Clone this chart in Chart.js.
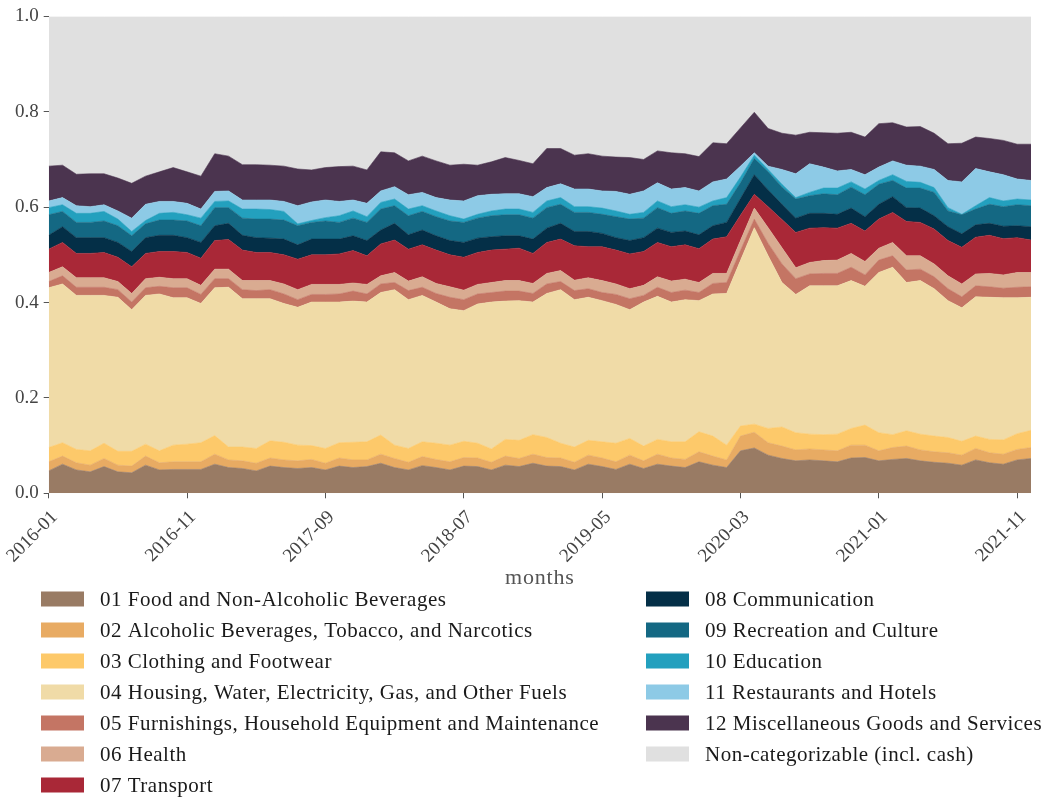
<!DOCTYPE html>
<html>
<head>
<meta charset="utf-8">
<script src="https://cdn.jsdelivr.net/npm/chart.js@4/dist/chart.umd.min.js"></script>
<style>
  body { margin: 0; background: #fff; }
  #wrap { width: 1045px; height: 799px; }
</style>
</head>
<body>
<div id="wrap"><canvas id="shareChart" width="1045" height="799"></canvas></div>
<script>
// Monthly expenditure shares by COICOP category
const months = [
  '2016-01','2016-02','2016-03','2016-04','2016-05','2016-06','2016-07','2016-08','2016-09','2016-10','2016-11','2016-12',
  '2017-01','2017-02','2017-03','2017-04','2017-05','2017-06','2017-07','2017-08','2017-09','2017-10','2017-11','2017-12',
  '2018-01','2018-02','2018-03','2018-04','2018-05','2018-06','2018-07','2018-08','2018-09','2018-10','2018-11','2018-12',
  '2019-01','2019-02','2019-03','2019-04','2019-05','2019-06','2019-07','2019-08','2019-09','2019-10','2019-11','2019-12',
  '2020-01','2020-02','2020-03','2020-04','2020-05','2020-06','2020-07','2020-08','2020-09','2020-10','2020-11','2020-12',
  '2021-01','2021-02','2021-03','2021-04','2021-05','2021-06','2021-07','2021-08','2021-09','2021-10','2021-11','2021-12'
];

const food = [0.047,0.061,0.049,0.045,0.056,0.045,0.043,0.059,0.049,0.050,0.050,0.050,0.061,0.054,0.052,0.047,0.057,0.054,0.052,0.054,0.049,0.057,0.054,0.056,
  0.063,0.054,0.049,0.058,0.054,0.049,0.057,0.056,0.049,0.059,0.056,0.063,0.057,0.056,0.049,0.061,0.056,0.050,0.061,0.052,0.061,0.057,0.054,
  0.066,0.059,0.054,0.089,0.095,0.080,0.073,0.068,0.070,0.068,0.066,0.074,0.075,0.068,0.071,0.073,0.068,0.065,0.063,0.059,0.070,0.064,0.061,0.070,0.073];
const alcohol = [0.019,0.017,0.015,0.014,0.017,0.014,0.014,0.019,0.015,0.016,0.016,0.016,0.021,0.016,0.016,0.016,0.017,0.016,0.016,0.017,0.014,0.017,0.016,0.014,
  0.019,0.019,0.016,0.019,0.017,0.017,0.018,0.018,0.016,0.019,0.017,0.019,0.018,0.018,0.016,0.019,0.018,0.016,0.019,0.016,0.021,0.017,0.017,
  0.021,0.019,0.016,0.031,0.033,0.026,0.026,0.023,0.023,0.023,0.023,0.027,0.026,0.021,0.025,0.026,0.023,0.022,0.022,0.021,0.024,0.021,0.021,0.022,0.023];
const clothing = [0.030,0.028,0.028,0.030,0.032,0.029,0.031,0.025,0.025,0.035,0.037,0.040,0.039,0.027,0.029,0.031,0.036,0.037,0.033,0.029,0.031,0.032,0.037,0.038,
  0.040,0.028,0.029,0.031,0.034,0.035,0.034,0.031,0.028,0.035,0.038,0.041,0.042,0.031,0.032,0.031,0.034,0.039,0.035,0.031,0.031,0.034,0.037,
  0.042,0.042,0.031,0.021,0.017,0.030,0.040,0.036,0.031,0.032,0.035,0.035,0.042,0.038,0.027,0.032,0.033,0.033,0.032,0.029,0.026,0.028,0.030,0.033,0.036];
const housing = [0.335,0.333,0.323,0.326,0.310,0.323,0.297,0.312,0.329,0.309,0.307,0.292,0.310,0.335,0.311,0.314,0.298,0.291,0.289,0.301,0.307,0.295,0.296,0.293,
  0.299,0.326,0.312,0.307,0.296,0.286,0.274,0.292,0.308,0.290,0.293,0.278,0.302,0.322,0.309,0.300,0.296,0.291,0.270,0.302,0.300,0.293,0.298,
  0.275,0.298,0.318,0.347,0.412,0.362,0.303,0.290,0.311,0.312,0.311,0.310,0.291,0.336,0.351,0.311,0.322,0.309,0.287,0.280,0.292,0.298,0.298,0.285,0.279];
const furnishings = [0.013,0.017,0.017,0.017,0.017,0.016,0.016,0.016,0.016,0.021,0.021,0.019,0.019,0.018,0.019,0.017,0.019,0.020,0.016,0.016,0.016,0.017,0.021,0.017,
  0.018,0.015,0.019,0.017,0.018,0.024,0.023,0.021,0.020,0.021,0.020,0.018,0.020,0.017,0.019,0.018,0.017,0.021,0.023,0.014,0.019,0.020,0.020,
  0.017,0.022,0.023,0.021,0.018,0.026,0.039,0.033,0.025,0.026,0.026,0.028,0.024,0.026,0.024,0.026,0.024,0.025,0.025,0.023,0.023,0.022,0.020,0.022,0.022];
const health = [0.019,0.019,0.020,0.020,0.020,0.017,0.018,0.019,0.019,0.019,0.019,0.019,0.020,0.020,0.019,0.021,0.019,0.021,0.021,0.021,0.021,0.020,0.017,0.020,
  0.017,0.021,0.020,0.022,0.021,0.022,0.020,0.020,0.021,0.022,0.022,0.021,0.022,0.023,0.022,0.023,0.025,0.022,0.021,0.021,0.022,0.024,0.023,
  0.021,0.021,0.019,0.021,0.023,0.033,0.034,0.023,0.024,0.027,0.028,0.029,0.028,0.025,0.028,0.030,0.028,0.027,0.027,0.027,0.025,0.028,0.028,0.031,0.030];
const transport = [0.049,0.051,0.051,0.051,0.053,0.051,0.056,0.053,0.054,0.057,0.055,0.057,0.060,0.062,0.064,0.059,0.059,0.061,0.064,0.062,0.062,0.064,0.068,0.060,
  0.067,0.068,0.067,0.067,0.070,0.067,0.069,0.067,0.068,0.066,0.068,0.063,0.065,0.066,0.072,0.065,0.071,0.071,0.073,0.071,0.072,0.072,0.072,
  0.071,0.072,0.077,0.053,0.029,0.044,0.059,0.074,0.072,0.069,0.067,0.063,0.064,0.061,0.063,0.072,0.070,0.073,0.074,0.077,0.077,0.080,0.076,0.073,0.068];
const communication = [0.029,0.033,0.033,0.033,0.031,0.031,0.032,0.033,0.034,0.034,0.031,0.033,0.031,0.034,0.031,0.031,0.030,0.033,0.030,0.033,0.033,0.031,0.031,0.032,
  0.029,0.035,0.030,0.031,0.030,0.030,0.031,0.030,0.028,0.028,0.026,0.030,0.030,0.033,0.030,0.032,0.028,0.026,0.028,0.029,0.030,0.030,0.029,
  0.029,0.028,0.030,0.035,0.041,0.035,0.032,0.030,0.031,0.030,0.029,0.032,0.030,0.031,0.033,0.029,0.030,0.028,0.029,0.028,0.026,0.025,0.026,0.025,0.028];
const recreation = [0.043,0.032,0.032,0.032,0.035,0.035,0.033,0.029,0.032,0.032,0.035,0.035,0.038,0.033,0.036,0.039,0.040,0.040,0.040,0.035,0.038,0.035,0.037,0.038,
  0.044,0.037,0.040,0.039,0.040,0.041,0.042,0.042,0.044,0.044,0.044,0.044,0.043,0.040,0.040,0.040,0.040,0.044,0.045,0.041,0.043,0.040,0.042,
  0.045,0.042,0.038,0.033,0.034,0.038,0.036,0.040,0.037,0.041,0.041,0.044,0.046,0.042,0.034,0.041,0.042,0.049,0.033,0.040,0.033,0.040,0.041,0.044,0.044];
const education = [0.015,0.014,0.019,0.019,0.020,0.014,0.009,0.007,0.014,0.016,0.013,0.016,0.013,0.014,0.019,0.021,0.020,0.018,0.004,0.004,0.007,0.014,0.015,0.012,
  0.014,0.014,0.014,0.012,0.012,0.011,0.007,0.008,0.010,0.012,0.012,0.012,0.014,0.014,0.012,0.012,0.013,0.012,0.010,0.012,0.014,0.014,0.013,
  0.013,0.010,0.014,0.012,0.007,0.005,0.006,0.003,0.007,0.012,0.014,0.011,0.012,0.008,0.012,0.014,0.012,0.010,0.007,0.001,0.007,0.014,0.012,0.012,0.012];
const restaurants = [0.014,0.015,0.016,0.014,0.014,0.017,0.028,0.034,0.025,0.023,0.024,0.019,0.021,0.021,0.019,0.019,0.020,0.021,0.038,0.039,0.037,0.030,0.023,0.028,
  0.024,0.026,0.030,0.028,0.028,0.033,0.038,0.039,0.035,0.032,0.032,0.033,0.028,0.029,0.037,0.037,0.036,0.041,0.042,0.045,0.038,0.037,0.036,
  0.034,0.040,0.039,0.023,0.005,0.007,0.031,0.050,0.060,0.044,0.036,0.026,0.030,0.028,0.029,0.034,0.034,0.038,0.057,0.068,0.078,0.054,0.055,0.042,0.041];
const misc = [0.073,0.068,0.066,0.069,0.065,0.069,0.073,0.059,0.062,0.071,0.066,0.069,0.079,0.073,0.074,0.074,0.073,0.074,0.077,0.067,0.068,0.073,0.071,0.070,
  0.082,0.071,0.071,0.076,0.077,0.073,0.077,0.064,0.068,0.076,0.070,0.069,0.082,0.074,0.071,0.074,0.073,0.072,0.077,0.066,0.067,0.076,0.071,
  0.072,0.082,0.074,0.080,0.085,0.079,0.076,0.081,0.066,0.072,0.079,0.078,0.079,0.091,0.080,0.080,0.083,0.076,0.077,0.081,0.066,0.070,0.072,0.073,0.076];
const nonCat = [0.314,0.312,0.331,0.330,0.330,0.339,0.350,0.335,0.326,0.317,0.326,0.335,0.288,0.293,0.311,0.311,0.312,0.314,0.320,0.322,0.317,0.315,0.314,0.322,
  0.284,0.286,0.303,0.293,0.303,0.312,0.310,0.312,0.305,0.296,0.302,0.309,0.277,0.277,0.291,0.288,0.293,0.295,0.296,0.300,0.282,0.286,0.288,
  0.294,0.265,0.267,0.234,0.201,0.235,0.245,0.249,0.243,0.244,0.245,0.243,0.253,0.225,0.223,0.232,0.231,0.245,0.267,0.266,0.253,0.256,0.260,0.268,0.268];

const categories = [
  '01 Food and Non-Alcoholic Beverages',
  '02 Alcoholic Beverages, Tobacco, and Narcotics',
  '03 Clothing and Footwear',
  '04 Housing, Water, Electricity, Gas, and Other Fuels',
  '05 Furnishings, Household Equipment and Maintenance',
  '06 Health',
  '07 Transport',
  '08 Communication',
  '09 Recreation and Culture',
  '10 Education',
  '11 Restaurants and Hotels',
  '12 Miscellaneous Goods and Services',
  'Non-categorizable (incl. cash)'
];
const series = [food, alcohol, clothing, housing, furnishings, health, transport,
  communication, recreation, education, restaurants, misc, nonCat];
const colors = ['#997b64', '#e8ab63', '#fdc96a', '#f0dba7', '#c47564', '#d9ab91', '#a92837',
  '#042f47', '#146883', '#23a0be', '#8dcae6', '#4b344f', '#e0e0e0'];

const yTicks = [0, 0.2, 0.4, 0.6, 0.8, 1.0];

const FONT = "'Liberation Serif', 'DejaVu Serif', serif";

const datasets = series.map((values, k) => ({
  label: categories[k],
  data: values.map((v, i) => ({ x: i, y: v })),
  backgroundColor: colors[k],
  borderColor: colors[k],
  borderWidth: 0.6,
  pointRadius: 0,
  tension: 0,
  fill: k === 0 ? 'origin' : '-1'
}));

// axis title plus a two-column legend (column-major) below the plot
const bottomText = {
  id: 'bottomText',
  afterDraw(chart) {
    const ctx = chart.ctx;
    const area = chart.chartArea;
    ctx.save();
    ctx.textBaseline = 'middle';

    ctx.font = '22px ' + FONT;
    ctx.letterSpacing = '0.8px';
    ctx.textAlign = 'center';
    ctx.fillStyle = '#555';
    ctx.fillText('months', (area.left + area.right) / 2, 578);

    ctx.font = '21px ' + FONT;
    ctx.letterSpacing = '0.5px';
    ctx.textAlign = 'left';
    chart.data.datasets.forEach((ds, k) => {
      const col = k < 7 ? 0 : 1;
      const row = col === 0 ? k : k - 7;
      const boxX = col === 0 ? 41 : 646;
      const y = 599 + row * 31;
      ctx.fillStyle = ds.backgroundColor;
      ctx.fillRect(boxX, y - 7.5, 43, 15);
      ctx.fillStyle = '#1a1a1a';
      ctx.fillText(ds.label, boxX + 59, y + 1);
    });
    ctx.restore();
  }
};

new Chart(document.getElementById('shareChart'), {
  type: 'line',
  data: { datasets },
  options: {
    responsive: false,
    animation: false,
    devicePixelRatio: 1,
    layout: { padding: { left: 0, right: 14, top: 15, bottom: 209 } },
    plugins: {
      legend: { display: false },
      tooltip: { enabled: false }
    },
    elements: { line: { borderJoinStyle: 'miter' } },
    scales: {
      x: {
        type: 'linear',
        min: 0,
        max: months.length - 1,
        afterFit: scale => {
          scale.height = 96.7;
          // rotated labels may hang past the left edge; keep the plot where it is
          scale.paddingLeft = 0;
          scale.paddingRight = 0;
        },
        border: { display: false },
        grid: { drawOnChartArea: false, drawTicks: true, tickLength: 5, color: '#555', lineWidth: 1 },
        ticks: {
          stepSize: 10,
          includeBounds: false,
          autoSkip: false,
          maxRotation: 45,
          minRotation: 45,
          padding: 8,
          labelOffset: 6,
          color: '#444',
          font: { family: FONT, size: 19 },
          callback: v => months[v]
        }
      },
      y: {
        stacked: true,
        min: 0,
        max: 1,
        afterFit: scale => { scale.width = 48.7; },
        afterBuildTicks: scale => { scale.ticks = yTicks.map(v => ({ value: v })); },
        border: { display: false },
        grid: { drawOnChartArea: false, drawTicks: true, tickLength: 5, color: '#555', lineWidth: 1 },
        ticks: {
          padding: 5,
          color: '#444',
          font: { family: FONT, size: 19 },
          callback: v => v.toFixed(1)
        }
      }
    }
  },
  plugins: [bottomText]
});
</script>
</body>
</html>
